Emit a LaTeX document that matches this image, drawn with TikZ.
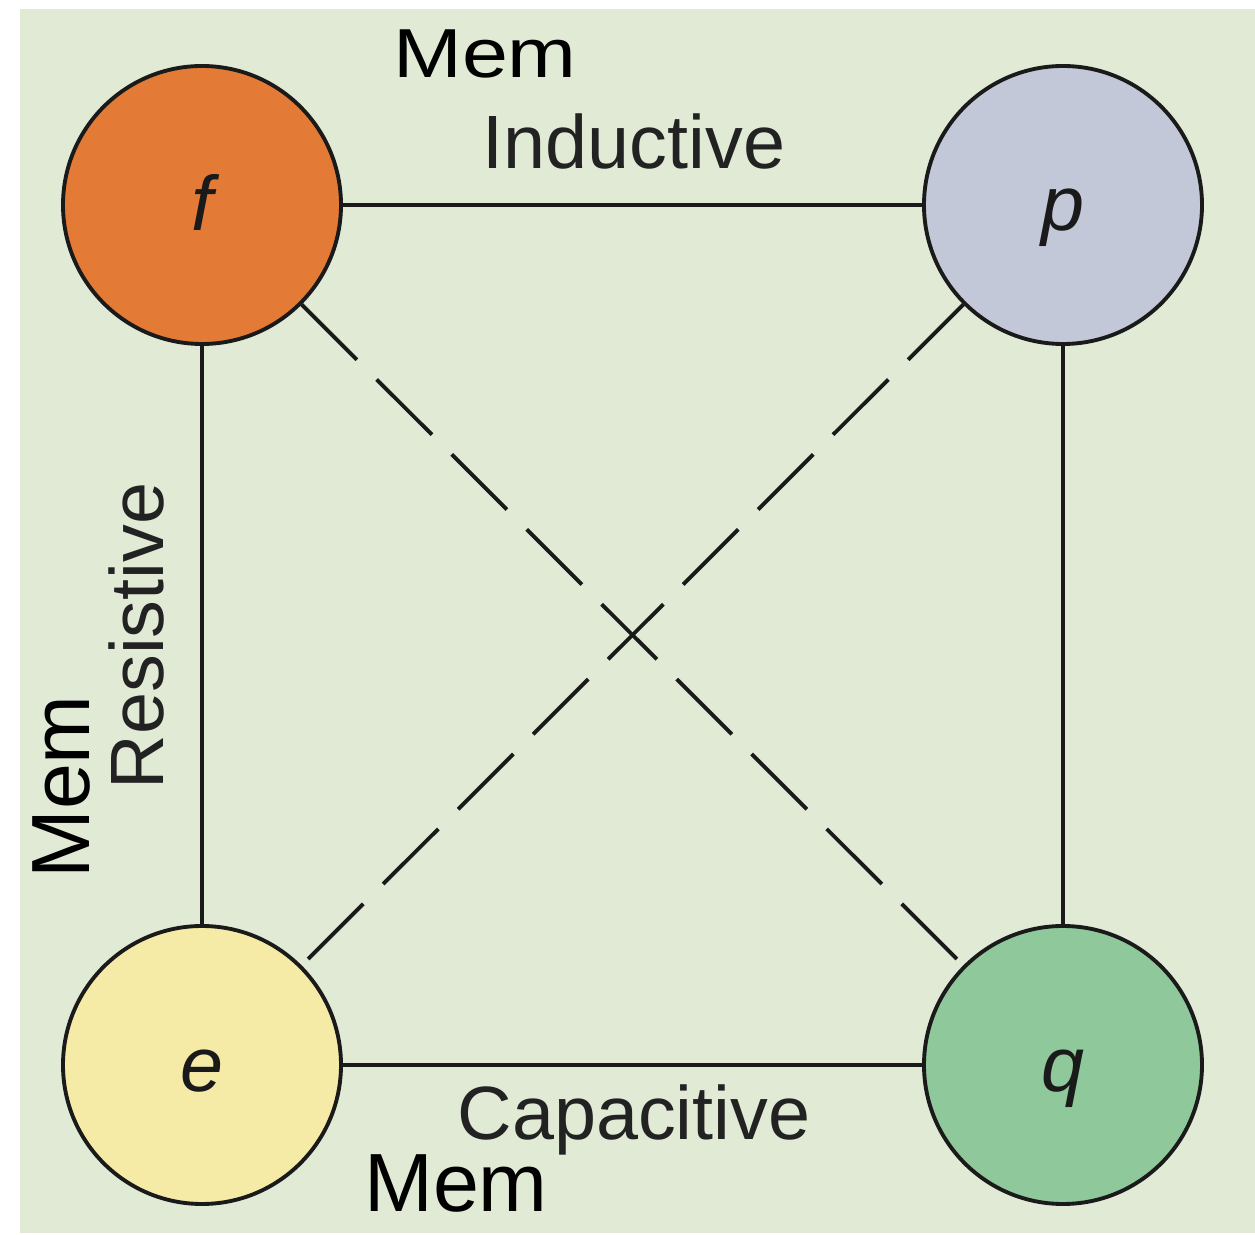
\documentclass[tikz,border=0pt]{standalone}
\usepackage{fontspec}
\setmainfont{Liberation Sans}
\definecolor{bgcol}{HTML}{E1EAD5}
\definecolor{fcol}{HTML}{E37A35}
\definecolor{pcol}{HTML}{C3C8D8}
\definecolor{ecol}{HTML}{F5EBA6}
\definecolor{qcol}{HTML}{8FC89A}
\definecolor{linecol}{HTML}{1A1A1A}
\definecolor{labelcol}{HTML}{222222}

\begin{document}
\begin{tikzpicture}[
    var/.style={circle, draw=linecol, line width=1.1pt, minimum size=2.78cm, inner sep=0pt,
      font=\fontsize{22}{24}\selectfont\itshape, text=linecol, text height=14.8pt, text depth=0pt},
    lbl/.style={font=\fontsize{21.5}{24}\selectfont, text=labelcol, inner sep=0pt, anchor=base},
    mem/.style={font=\fontsize{23.5}{26}\selectfont, inner sep=0pt, anchor=base},
    link/.style={draw=linecol, line width=1.1pt},
    memlink/.style={link, dash pattern=on 0.78cm off 0.28cm}]
        \useasboundingbox (0,0) rectangle (12.55,12.35);
        \fill[bgcol] (0.20,0.02) rectangle (12.55,12.26);
        % variables
        \node[var, fill=fcol] (f) at (2.02,10.30) {f};
        \node[var, fill=pcol] (p) at (10.63,10.30) {p};
        \node[var, fill=ecol] (e) at (2.02,1.70) {e};
        \node[var, fill=qcol] (q) at (10.63,1.70) {q};
        % labels
        \node[mem] (mem1) at (4.85,11.57) {\scalebox{1}[0.84]{Mem}};
        \node[lbl] (ind) at (6.34,10.66) {Inductive};
        \node[lbl] (cap) at (6.34,0.95) {Capacitive};
        \node[mem] (mem3) at (4.56,0.23) {Mem};
        \node[lbl, rotate=90] (res) at (1.63,5.99) {Resistive};
        \node[mem, rotate=90] (mem2) at (0.89,4.48) {Mem};

        % Now the lines between the variables
        \draw[link] (f)--(p);
        \draw[link] (f)--(e);
        \draw[link] (p)--(q);
        \draw[link] (e)--(q);
        \draw[memlink] (f)--(q);
        \draw[memlink] (p)--(e);
    \end{tikzpicture}
\end{document}
